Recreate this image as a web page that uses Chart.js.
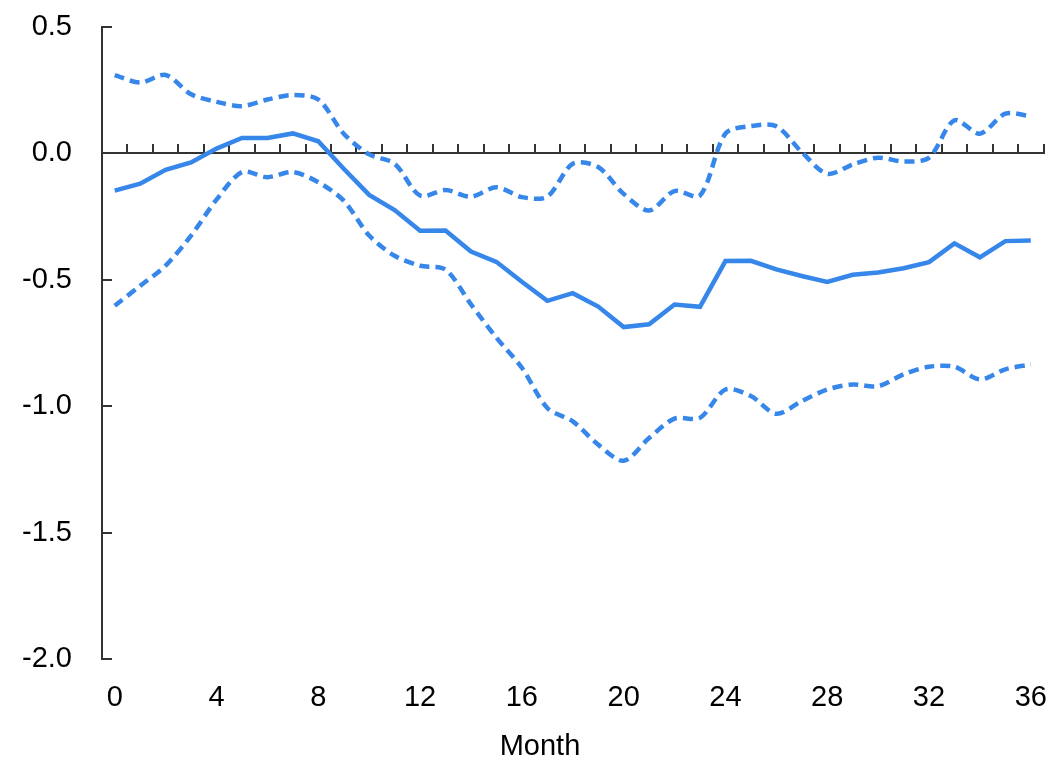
<!DOCTYPE html>
<html>
<head>
<meta charset="utf-8">
<script src="https://cdn.jsdelivr.net/npm/chart.js@4/dist/chart.umd.min.js"></script>
<style>
  html, body { margin: 0; padding: 0; background: #ffffff; }
  #wrap { width: 1051px; height: 761px; position: relative; }
</style>
</head>
<body>
<div id="wrap"><canvas id="c"></canvas></div>
<script>
const months = [0,1,2,3,4,5,6,7,8,9,10,11,12,13,14,15,16,17,18,19,20,21,22,23,24,25,26,27,28,29,30,31,32,33,34,35,36];
const estimate = [-0.147,-0.12,-0.065,-0.036,0.019,0.061,0.061,0.079,0.048,-0.061,
                  -0.164,-0.224,-0.306,-0.305,-0.388,-0.429,-0.508,-0.583,-0.553,-0.606,
                  -0.687,-0.676,-0.598,-0.607,-0.426,-0.425,-0.459,-0.485,-0.508,-0.48,
                  -0.471,-0.454,-0.43,-0.356,-0.411,-0.347,-0.345];
const upperBand = [0.31,0.28,0.31,0.234,0.204,0.187,0.213,0.231,0.213,0.078,
                   -0.004,-0.041,-0.167,-0.145,-0.171,-0.134,-0.173,-0.171,-0.041,-0.054,
                   -0.16,-0.226,-0.149,-0.167,0.078,0.108,0.107,0.005,-0.081,-0.044,
                   -0.017,-0.032,-0.017,0.131,0.078,0.157,0.147];
const lowerBand = [-0.603,-0.524,-0.444,-0.325,-0.183,-0.074,-0.094,-0.074,-0.114,-0.187,
                   -0.325,-0.405,-0.444,-0.46,-0.597,-0.729,-0.848,-1.007,-1.06,-1.152,
                   -1.216,-1.126,-1.049,-1.046,-0.934,-0.96,-1.03,-0.98,-0.934,-0.914,
                   -0.921,-0.874,-0.844,-0.844,-0.894,-0.854,-0.835];
const xTickLabels = [0,4,8,12,16,20,24,28,32,36];
const yMin = -2.0, yMax = 0.5, yStep = 0.5;
const xTitle = 'Month';

const FONT = "'Liberation Sans', Arial, sans-serif";
const BLUE = '#3787EA';
const AXIS = '#333333';

new Chart(document.getElementById('c'), {
  type: 'line',
  data: {
    labels: months,
    datasets: [
      { label: 'Estimate', data: estimate, borderColor: BLUE, borderWidth: 4.5, pointRadius: 0, tension: 0, fill: false },
      { label: 'Upper', data: upperBand, borderColor: BLUE, borderWidth: 4.5, borderDash: [10, 6], pointRadius: 0, tension: 0.3, fill: false },
      { label: 'Lower', data: lowerBand, borderColor: BLUE, borderWidth: 4.5, borderDash: [10, 6], pointRadius: 0, tension: 0.3, fill: false }
    ]
  },
  options: {
    responsive: true,
    maintainAspectRatio: false,
    animation: false,
    layout: { padding: { left: 36.5, right: 7.5, top: 27, bottom: 0 } },
    plugins: {
      legend: { display: false },
      tooltip: { enabled: false },
      title: {
        display: true, text: xTitle, position: 'bottom', fullSize: true,
        color: '#000', font: { family: FONT, size: 29, weight: 'normal', lineHeight: 1 },
        padding: { top: 0, bottom: 0 }
      }
    },
    scales: {
      x: {
        type: 'category',
        position: 'bottom',
        offset: true,
        border: { display: false },
        grid: { display: false, drawTicks: true, tickLength: 22 },
        ticks: {
          autoSkip: false, maxRotation: 0, padding: 0,
          color: '#000', font: { family: FONT, size: 29 },
          callback: function (v, i) { const l = this.getLabelForValue(v); return xTickLabels.includes(Number(l)) ? l : ''; }
        },
        afterFit: (s) => { s.height = 73; }
      },
      x2: {
        type: 'category',
        position: { y: 0 },
        offset: true,
        border: { display: true, color: AXIS, width: 2 },
        grid: { display: true, offset: true, drawOnChartArea: false, drawTicks: true, tickLength: -10, color: AXIS, lineWidth: 2 },
        ticks: { display: false, autoSkip: false }
      },
      y: {
        type: 'linear',
        position: 'left',
        min: yMin, max: yMax,
        border: { display: true, color: AXIS, width: 2 },
        grid: { display: true, drawOnChartArea: false, drawTicks: true, tickLength: -10, color: AXIS, lineWidth: 2 },
        ticks: {
          stepSize: yStep, mirror: true, crossAlign: 'far', padding: -80,
          color: '#000', font: { family: FONT, size: 29 },
          callback: (v) => Number(v).toFixed(1)
        },
        afterFit: (s) => { s.width = 65.5; }
      }
    }
  }
});
</script>
</body>
</html>
